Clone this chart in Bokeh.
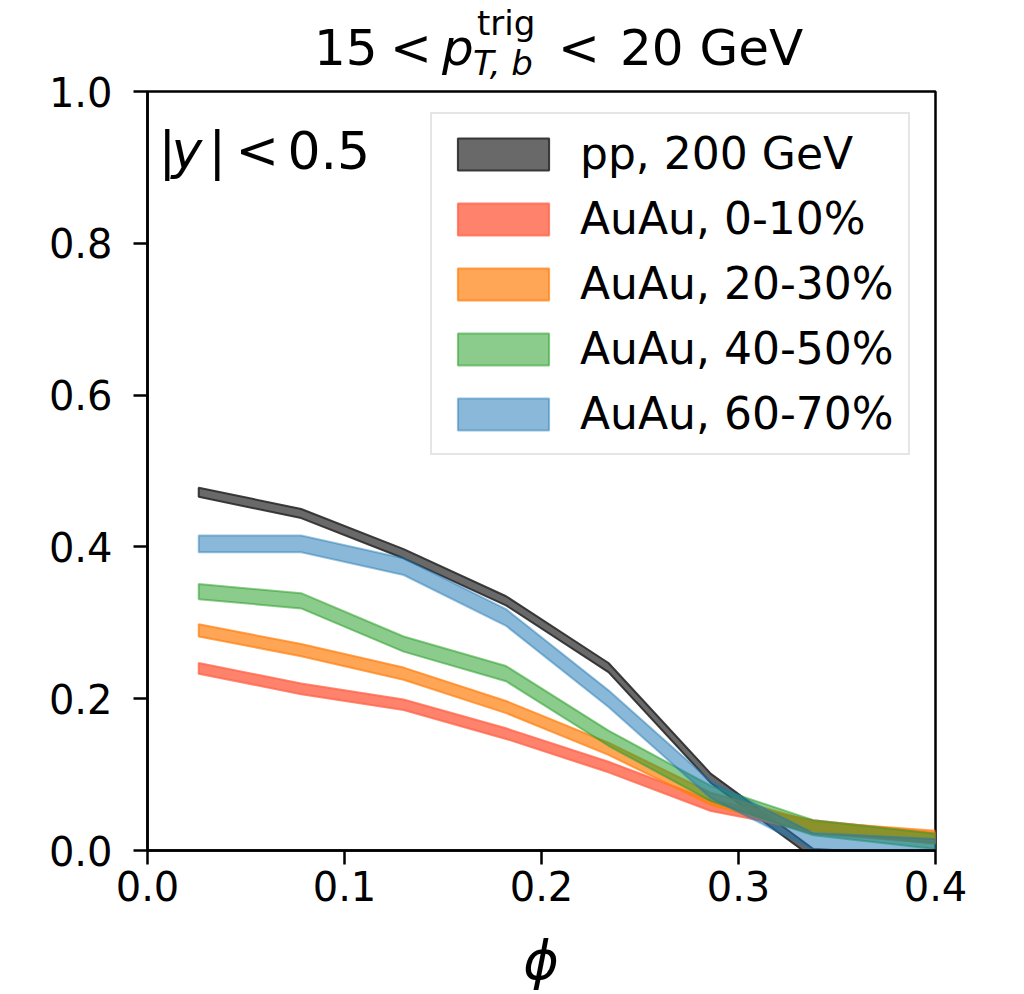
import numpy as np
from bokeh.plotting import figure
from bokeh.models import Legend, LegendItem, Label, FixedTicker, PrintfTickFormatter, Range1d, Div
from bokeh.layouts import column
from bokeh.embed import file_html
from bokeh.resources import INLINE

# ---- data ----
phi = [0.026, 0.078, 0.130, 0.182, 0.234, 0.286, 0.338, 0.400]

labels = ["pp, 200 GeV", "AuAu, 0-10%", "AuAu, 20-30%", "AuAu, 40-50%", "AuAu, 60-70%"]

pp_200 = [0.472, 0.444, 0.391, 0.329, 0.241, 0.095, -0.004, -0.012]
auau_0_10 = [0.240, 0.213, 0.192, 0.154, 0.110, 0.059, 0.033, 0.016]
auau_20_30 = [0.290, 0.264, 0.233, 0.189, 0.134, 0.068, 0.030, 0.018]
auau_40_50 = [0.341, 0.329, 0.272, 0.233, 0.148, 0.075, 0.030, 0.012]
auau_60_70 = [0.404, 0.404, 0.374, 0.307, 0.200, 0.080, 0.012, 0.004]

err_pp = [0.006] * 8
err_0_10 = [0.007] * 8
err_20_30 = [0.008] * 8
err_40_50 = [0.010] * 8
err_60_70 = [0.011] * 8

x_ticks = [0.0, 0.1, 0.2, 0.3, 0.4]
y_ticks = [0.0, 0.2, 0.4, 0.6, 0.8, 1.0]

series = [pp_200, auau_0_10, auau_20_30, auau_40_50, auau_60_70]
errors = [err_pp, err_0_10, err_20_30, err_40_50, err_60_70]
fills = ["#444444", "#FF6347", "#FF7F0E", "#2CA02C", "#1F77B4"]
fill_alphas = [0.8, 0.8, 0.7, 0.55, 0.52]
edge_colors = ["#2a2a2a", "#FF6347", "#FF7F0E", "#2CA02C", "#1F77B4"]
edge_alphas = [0.9, 0.75, 0.7, 0.55, 0.45]

FONT = "DejaVu Sans"

W, H = 1008, 994
p = figure(width=W, height=H, output_backend="svg", toolbar_location=None,
           x_range=Range1d(0, 0.4), y_range=Range1d(0, 1.0),
           min_border_left=147, min_border_right=73, min_border_top=91, min_border_bottom=144)

p.xgrid.visible = False
p.ygrid.visible = False
p.outline_line_color = "black"
p.outline_line_width = 2.5
p.background_fill_color = "white"

for ax in (p.xaxis[0], p.yaxis[0]):
    ax.axis_line_width = 2.5
    ax.major_tick_line_width = 2.5
    ax.major_tick_out = 14
    ax.major_tick_in = 0
    ax.minor_tick_line_color = None
    ax.major_label_text_font = FONT
    ax.major_label_text_font_size = "40px"
    ax.major_label_text_color = "black"
    ax.formatter = PrintfTickFormatter(format="%.1f")
p.xaxis[0].ticker = FixedTicker(ticks=x_ticks)
p.yaxis[0].ticker = FixedTicker(ticks=y_ticks)
p.xaxis[0].major_label_standoff = 6
p.yaxis[0].major_label_standoff = 21

items = []
xs = np.array(phi)
for vals, err, fc, fa, ec, ea, lab in zip(series, errors, fills, fill_alphas, edge_colors, edge_alphas, labels):
    v = np.array(vals)
    e = np.array(err)
    px = np.concatenate([xs, xs[::-1]])
    py = np.concatenate([v + e, (v - e)[::-1]])
    r = p.patch(px, py, fill_color=fc, fill_alpha=fa, line_color=ec, line_alpha=ea, line_width=2)
    items.append(LegendItem(label=lab, renderers=[r]))

legend = Legend(items=items, location=(283, 395),
                label_text_font=FONT, label_text_font_size="44px", label_text_color="black",
                glyph_width=114, glyph_height=40, label_standoff=20,
                spacing=14, padding=14, margin=0,
                border_line_color="#cccccc", border_line_width=2,
                background_fill_color="white", background_fill_alpha=0.85)
p.add_layout(legend, "center")

def lab(text, x, y, size, style="normal"):
    p.add_layout(Label(x=x, y=y, x_units="screen", y_units="screen", text=text,
                       text_font=FONT, text_font_size=size, text_font_style=style,
                       text_align="left", text_baseline="alphabetic", text_color="black"))

# |y| < 0.5
lab("|", 11, 701, "52px")
lab("y", 24, 701, "52px", "italic")
lab("|", 61, 701, "52px")
lab("<", 88, 701, "52px")
lab("0.5", 140, 701, "52px")

# title 15 < p_{T,b}^{trig} < 20 GeV and x label ϕ (HTML text outside the frame)
def span(text, left, baseline, size, italic=False, width=None):
    top = baseline - 0.846 * size
    st = "font-style:italic;" if italic else ""
    wd = f"width:{width}px;text-align:center;" if width else ""
    return (f'<span style="position:absolute;left:{left}px;top:{top:.1f}px;{wd}'
            f'font-size:{size}px;line-height:1;white-space:nowrap;{st}">{text}</span>')

overlay_html = (
    f'<div style="position:relative;width:1008px;height:990px;'
    f'font-family:\'DejaVu Sans\';color:black;">'
    + span("15", 314, 65, 50)
    + span("&lt;", 390, 65, 50)
    + span("p", 442, 65, 50, True)
    + span("trig", 477, 35, 34)
    + span("T, b", 473, 75, 34, True)
    + span("&lt;", 558, 65, 50)
    + span("20 GeV", 620, 65, 50)
    + span("ϕ", 491, 980, 54, True, width=100)
    + '</div>'
)
overlay = Div(text=overlay_html, width=1008, height=990, margin=0,
              styles={"position": "absolute", "top": "0px", "left": "0px",
                      "z-index": "10", "pointer-events": "none"})

layout = column(p, overlay)
open("out.html", "w").write(file_html(layout, INLINE))
